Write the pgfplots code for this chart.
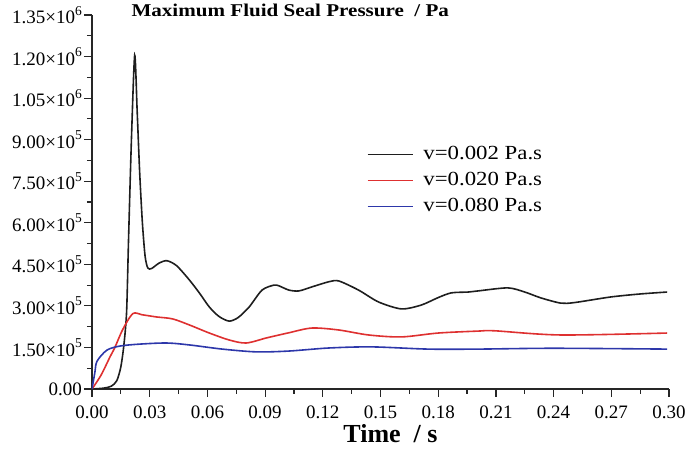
\documentclass[border=0pt]{standalone}
\usepackage{fontspec}
\setmainfont{Liberation Serif}
\newfontfamily\titlefont{Liberation Serif}[FakeStretch=1.17]
\newfontfamily\legfont{Liberation Serif}[FakeStretch=1.14]
\usepackage{pgfplots}
\pgfplotsset{compat=1.18}
\newcommand{\sci}[2]{#1×10\raisebox{0.45em}{\fontsize{13.5}{14}\selectfont #2}}
\definecolor{cblack}{RGB}{30,30,30}
\definecolor{cred}{RGB}{222,48,48}
\definecolor{cblue}{RGB}{45,55,170}
\begin{document}
\begin{tikzpicture}
\begin{axis}[
  at={(0pt,0pt)}, anchor=origin,
  scale only axis, width=577pt, height=374pt,
  xmin=0, xmax=0.30, ymin=0, ymax=1350000,
  axis lines*=left,
  axis line style={line width=1.4pt, black!85},
  tick align=outside,
  major tick length=8pt, minor tick length=5pt,
  every tick/.style={line width=1.2pt, black!85},
  minor x tick num=1, minor y tick num=1,
  xtick={0,0.03,0.06,0.09,0.12,0.15,0.18,0.21,0.24,0.27,0.30},
  xticklabels={0.00,0.03,0.06,0.09,0.12,0.15,0.18,0.21,0.24,0.27,0.30},
  ytick={0,150000,300000,450000,600000,750000,900000,1050000,1200000,1350000},
  yticklabels={0.00,\sci{1.50}{5},\sci{3.00}{5},\sci{4.50}{5},\sci{6.00}{5},\sci{7.50}{5},\sci{9.00}{5},\sci{1.05}{6},\sci{1.20}{6},\sci{1.35}{6}},
  scaled ticks=false,
  yticklabel style={font=\fontsize{19}{21}\selectfont, inner xsep=2pt},
  xticklabel style={font=\fontsize{19}{21}\selectfont, inner ysep=3pt, yshift=-6pt},
  xlabel={Time~~/ s},
  xlabel style={font=\fontsize{26}{29}\selectfont\bfseries, at={(rel axis cs:0.5,0)}, anchor=base, yshift=-54pt, xshift=10pt},
  legend cell align=left,
  legend style={at={(rel axis cs:0.471,0.66)}, anchor=north west, draw=none, fill=none,
    font=\legfont\fontsize{20}{22}\selectfont, row sep=6pt, column sep=8pt,
    nodes={inner ysep=1pt, text height=14pt, text depth=4pt}},
  legend image code/.code={\draw[#1, line width=1.5pt] (0pt,0pt) -- (45pt,0pt);},
]
\addplot[cblack, line width=1.6pt, smooth, tension=0.45] coordinates {
(0,0) (0.006,3000) (0.010,10000) (0.0129,30000) (0.0150,80000) (0.0166,160000)
(0.0180,280000) (0.0190,540000) (0.0205,900000) (0.0222,1205000) (0.0235,1000000)
(0.0248,780000) (0.0262,600000) (0.0276,480000) (0.029,437000) (0.031,435000)
(0.035,455000) (0.039,463000) (0.044,445000) (0.0507,393000) (0.056,345000)
(0.061,296000) (0.066,262000) (0.0713,245000) (0.076,258000) (0.0817,296000)
(0.0884,357000) (0.0946,375000) (0.0973,372000) (0.1024,357000) (0.1076,354000)
(0.115,370000) (0.1231,387000) (0.1283,390000) (0.1386,357000) (0.149,314000)
(0.1609,289000) (0.1712,303000) (0.18,330000) (0.1868,347000) (0.1956,350000)
(0.2007,354000) (0.2162,365000) (0.225,350000) (0.2333,329000) (0.2437,310000)
(0.2509,312000) (0.2695,332000) (0.285,343000) (0.299,350000)
};
\addlegendentry{v=0.002 Pa.s}
\addplot[cred, line width=1.6pt, smooth, tension=0.5] coordinates {
(0,0) (0.0047,50000) (0.0093,115000) (0.0119,150000) (0.016,215000) (0.0212,272000)
(0.026,268000) (0.0336,260000) (0.0419,253000) (0.0507,231000) (0.061,202000)
(0.0713,177000) (0.0801,166000) (0.0905,184000) (0.0973,195000) (0.1024,203000)
(0.1143,220000) (0.1283,213000) (0.1438,195000) (0.1609,188000) (0.18,202000)
(0.2007,209000) (0.2095,210000) (0.2437,195000) (0.299,202000)
};
\addlegendentry{v=0.020 Pa.s}
\addplot[cblue, line width=1.6pt, smooth, tension=0.5] coordinates {
(0,0) (0.0015,60000) (0.0026,100000) (0.0077,140000) (0.0145,155000) (0.0248,162000)
(0.0388,166000) (0.0507,159000) (0.0678,144000) (0.0855,134000) (0.1024,137000)
(0.1231,148000) (0.1454,152000) (0.1749,144000) (0.2007,144000) (0.24,147000)
(0.299,144000)
};
\addlegendentry{v=0.080 Pa.s}
\end{axis}
\node[anchor=base west, font=\titlefont\bfseries\fontsize{18}{20}\selectfont] at (36pt,372pt) {Maximum Fluid Seal Pressure~~/ Pa};
\pgfresetboundingbox
\path[use as bounding box] (-92pt,-60pt) rectangle (593pt,389pt);
\end{tikzpicture}
\end{document}
